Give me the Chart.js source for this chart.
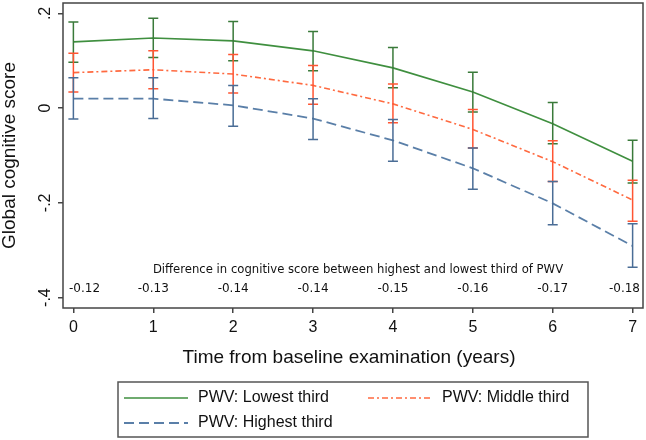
<!DOCTYPE html>
<html>
<head>
<meta charset="utf-8">
<title>Global cognitive score by PWV third</title>
<script src="https://cdn.jsdelivr.net/npm/chart.js@4"></script>
<style>
  html, body { margin: 0; padding: 0; background: #fff; }
  #wrap { position: relative; width: 646px; height: 440px; }
</style>
</head>
<body>
<div id="wrap"><canvas id="chart" width="646" height="440"></canvas></div>
<script>
// years since baseline
const years = [0, 1, 2, 3, 4, 5, 6, 7];

// PWV: lowest third (mean, lower CI, upper CI)
const lowestMean = [0.140, 0.148, 0.142, 0.121, 0.085, 0.034, -0.033, -0.112];
const lowestLow  = [0.097, 0.107, 0.100, 0.079, 0.043, -0.008, -0.075, -0.158];
const lowestHigh = [0.182, 0.190, 0.183, 0.162, 0.128, 0.076, 0.012, -0.068];

// PWV: middle third
const middleMean = [0.075, 0.081, 0.072, 0.048, 0.009, -0.045, -0.113, -0.194];
const middleLow  = [0.034, 0.041, 0.032, 0.008, -0.031, -0.084, -0.155, -0.239];
const middleHigh = [0.116, 0.121, 0.113, 0.090, 0.051, -0.003, -0.069, -0.152];

// PWV: highest third
const highestMean = [0.020, 0.020, 0.006, -0.022, -0.068, -0.127, -0.201, -0.291];
const highestLow  = [-0.023, -0.022, -0.038, -0.066, -0.112, -0.171, -0.246, -0.336];
const highestHigh = [0.064, 0.064, 0.048, 0.020, -0.024, -0.084, -0.155, -0.244];

// difference highest vs lowest third, printed above the x axis
const differences = ['-0.12', '-0.13', '-0.14', '-0.14', '-0.15', '-0.16', '-0.17', '-0.18'];

const yTicks = [0.2, 0, -0.2, -0.4];
const yTickLabels = ['.2', '0', '-.2', '-.4'];

const seriesNames = ['PWV: Lowest third', 'PWV: Middle third', 'PWV: Highest third'];

const AXIS_FONT = '"Liberation Sans", Arial, sans-serif';
const NOTE_FONT = '"DejaVu Sans", Verdana, sans-serif';

function points(ys) {
    return years.map((x, i) => ({ x: x, y: ys[i] }));
}

const datasets = [
    {
        label: seriesNames[0],
        data: points(lowestMean),
        low: lowestLow, high: lowestHigh,
        borderColor: '#3f8f3f',
        barColor: '#3a7a3a',
        borderWidth: 1.6,
        borderDash: []
    },
    {
        label: seriesNames[1],
        data: points(middleMean),
        low: middleLow, high: middleHigh,
        borderColor: '#ff6a40',
        barColor: '#ff5533',
        borderWidth: 1.6,
        borderDash: [6, 3, 2, 3]
    },
    {
        label: seriesNames[2],
        data: points(highestMean),
        low: highestLow, high: highestHigh,
        borderColor: '#5a7fa8',
        barColor: '#4a6d96',
        borderWidth: 1.8,
        borderDash: [10, 5]
    }
];

// error bars with caps, drawn on the library's scales
const errorBars = {
    id: 'errorBars',
    afterDatasetsDraw(chart) {
        const ctx = chart.ctx;
        const xs = chart.scales.x, ys = chart.scales.y;
        ctx.save();
        ctx.lineWidth = 1.5;
        ctx.setLineDash([]);
        chart.data.datasets.forEach(ds => {
            ctx.strokeStyle = ds.barColor;
            years.forEach((yr, i) => {
                const px = xs.getPixelForValue(yr);
                const top = ys.getPixelForValue(ds.high[i]);
                const bot = ys.getPixelForValue(ds.low[i]);
                ctx.beginPath();
                ctx.moveTo(px, top); ctx.lineTo(px, bot);
                ctx.moveTo(px - 5, top); ctx.lineTo(px + 5, top);
                ctx.moveTo(px - 5, bot); ctx.lineTo(px + 5, bot);
                ctx.stroke();
            });
        });
        ctx.restore();
    }
};

// plot frame, axis text, difference row and legend
const frame = {
    id: 'frame',
    afterDraw(chart) {
        const ctx = chart.ctx;
        const a = chart.chartArea;
        const xs = chart.scales.x, ys = chart.scales.y;
        ctx.save();

        ctx.strokeStyle = '#444';
        ctx.lineWidth = 1.5;
        ctx.strokeRect(a.left, a.top, a.right - a.left, a.bottom - a.top);

        ctx.fillStyle = '#111';
        ctx.font = '16px ' + AXIS_FONT;
        ctx.textAlign = 'center';
        ctx.textBaseline = 'middle';
        years.forEach(yr => {
            ctx.fillText(String(yr), xs.getPixelForValue(yr), a.bottom + 20);
        });

        yTicks.forEach((v, i) => {
            ctx.save();
            ctx.translate(a.left - 17, ys.getPixelForValue(v));
            ctx.rotate(-Math.PI / 2);
            ctx.fillText(yTickLabels[i], 0, 0);
            ctx.restore();
        });

        ctx.font = '19px ' + AXIS_FONT;
        ctx.fillText('Time from baseline examination (years)', (a.left + a.right) / 2 - 4, a.bottom + 50);
        ctx.save();
        ctx.translate(10, (a.top + a.bottom) / 2);
        ctx.rotate(-Math.PI / 2);
        ctx.fillText('Global cognitive score', 0, 0);
        ctx.restore();

        // difference row
        ctx.font = '12px ' + NOTE_FONT;
        ctx.fillStyle = '#111';
        ctx.save();
        ctx.translate(358, a.bottom - 38);
        ctx.scale(0.97, 1);
        ctx.fillText('Difference in cognitive score between highest and lowest third of PWV', 0, 0);
        ctx.restore();
        differences.forEach((d, i) => {
            const w = ctx.measureText(d).width;
            let cx = xs.getPixelForValue(years[i]);
            cx = Math.max(cx, a.left + 6 + w / 2);
            cx = Math.min(cx, a.right - 3 - w / 2);
            ctx.fillText(d, cx, a.bottom - 19);
        });

        // legend
        const lx = 118, ly = 382, lw = 470, lh = 55;
        ctx.strokeStyle = '#555';
        ctx.lineWidth = 1.5;
        ctx.strokeRect(lx, ly, lw, lh);
        const slots = [[124, 398], [368, 398], [124, 423]];
        ctx.font = '16px ' + AXIS_FONT;
        ctx.textAlign = 'left';
        ctx.fillStyle = '#111';
        chart.data.datasets.forEach((ds, i) => {
            const [sx, sy] = slots[i];
            ctx.strokeStyle = ds.borderColor;
            ctx.lineWidth = ds.borderWidth;
            ctx.setLineDash(ds.borderDash);
            ctx.beginPath();
            ctx.moveTo(sx, sy); ctx.lineTo(sx + 64, sy);
            ctx.stroke();
            ctx.setLineDash([]);
            ctx.fillText(ds.label, sx + 74, sy);
        });

        ctx.restore();
    }
};

new Chart(document.getElementById('chart'), {
    type: 'line',
    data: { datasets: datasets },
    options: {
        responsive: false,
        animation: false,
        events: [],
        layout: { padding: { left: 58, top: 3, right: 3, bottom: 127 } },
        elements: {
            point: { radius: 0 },
            line: { tension: 0 }
        },
        plugins: {
            legend: { display: false },
            tooltip: { enabled: false }
        },
        scales: {
            x: {
                type: 'linear',
                min: -0.13,
                max: 7.13,
                afterBuildTicks: s => { s.ticks = years.map(v => ({ value: v })); },
                ticks: { display: false },
                grid: { drawOnChartArea: false, drawTicks: true, tickLength: 5, color: '#444', lineWidth: 1.5 },
                border: { display: false }
            },
            y: {
                type: 'linear',
                min: -0.422,
                max: 0.222,
                afterBuildTicks: s => { s.ticks = yTicks.map(v => ({ value: v })); },
                ticks: { display: false },
                grid: { drawOnChartArea: false, drawTicks: true, tickLength: 5, color: '#444', lineWidth: 1.5 },
                border: { display: false }
            }
        }
    },
    plugins: [errorBars, frame]
});
</script>
</body>
</html>
